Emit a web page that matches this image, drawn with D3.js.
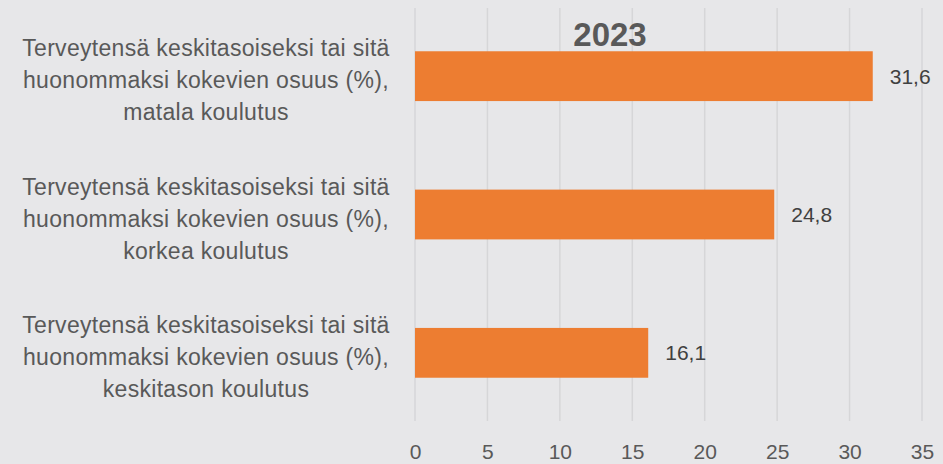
<!DOCTYPE html>
<html>
<head>
<meta charset="utf-8">
<script src="https://cdn.jsdelivr.net/npm/d3@7"></script>
<style>
  html, body { margin: 0; padding: 0; background: #e7e7e9; }
  svg { display: block; }
</style>
</head>
<body>
<svg id="chart" width="943" height="464"></svg>
<script>
// Share (%) reporting their health as average or worse, by education level, 2023
const categories = [
  ["Terveytensä keskitasoiseksi tai sitä", "huonommaksi kokevien osuus (%),", "matala koulutus"],
  ["Terveytensä keskitasoiseksi tai sitä", "huonommaksi kokevien osuus (%),", "korkea koulutus"],
  ["Terveytensä keskitasoiseksi tai sitä", "huonommaksi kokevien osuus (%),", "keskitason koulutus"]
];
const values = [31.6, 24.8, 16.1];
const tickValues = [0, 5, 10, 15, 20, 25, 30, 35];
const title = "2023";

const svg = d3.select("#chart");
const W = 943, H = 464;
svg.append("rect").attr("width", W).attr("height", H).attr("fill", "#e7e7e9");

const x = d3.scaleLinear().domain([0, 35]).range([415, 922]);
const y = d3.scaleBand().domain(d3.range(categories.length)).range([7, 422])
  .paddingInner(0.64).paddingOuter(0.32);

// vertical gridlines
svg.append("g").selectAll("line").data(tickValues).join("line")
  .attr("x1", d => x(d)).attr("x2", d => x(d))
  .attr("y1", 8).attr("y2", 421)
  .attr("stroke", "#d6d6d8").attr("stroke-width", 1.5);

// x axis labels
const xAxis = d3.axisBottom(x).tickValues(tickValues).tickSize(0).tickPadding(0)
  .tickFormat(d3.format("d"));
const gx = svg.append("g").call(xAxis);
gx.select(".domain").remove();
gx.selectAll("text")
  .attr("dy", null)
  .attr("y", 459)
  .attr("fill", "#595959")
  .style("font-family", "Liberation Sans, Arial, sans-serif")
  .style("font-size", "21px");

// bars
svg.append("g").selectAll("rect").data(values).join("rect")
  .attr("x", x(0))
  .attr("y", (d, i) => y(i))
  .attr("width", d => x(d) - x(0))
  .attr("height", y.bandwidth())
  .attr("fill", "#ed7d31");

// value labels
const fmt = v => d3.format(".1f")(v).replace(".", ",");
svg.append("g").selectAll("text").data(values).join("text")
  .attr("x", d => x(d) + 17)
  .attr("y", (d, i) => y(i) + y.bandwidth() / 2)
  .attr("dy", "0.35em")
  .attr("fill", "#404040")
  .style("font-family", "Liberation Sans, Arial, sans-serif")
  .style("font-size", "21px")
  .text(fmt);

// category labels
const cat = svg.append("g").selectAll("text").data(categories).join("text")
  .attr("text-anchor", "middle")
  .attr("fill", "#595959")
  .style("font-family", "Liberation Sans, Arial, sans-serif")
  .style("font-size", "23px")
  .style("letter-spacing", "0.3px");
cat.each(function(lines, i) {
  const cy = y(i) + y.bandwidth() / 2;
  d3.select(this).selectAll("tspan").data(lines).join("tspan")
    .attr("x", 206)
    .attr("y", (d, j) => cy + 12 + (j - 1) * 32)
    .text(d => d);
});

// title
svg.append("text")
  .attr("x", 610).attr("y", 46)
  .attr("text-anchor", "middle")
  .attr("fill", "#595959")
  .style("font-family", "Liberation Sans, Arial, sans-serif")
  .style("font-weight", "bold")
  .style("font-size", "33px")
  .text(title);
</script>
</body>
</html>
